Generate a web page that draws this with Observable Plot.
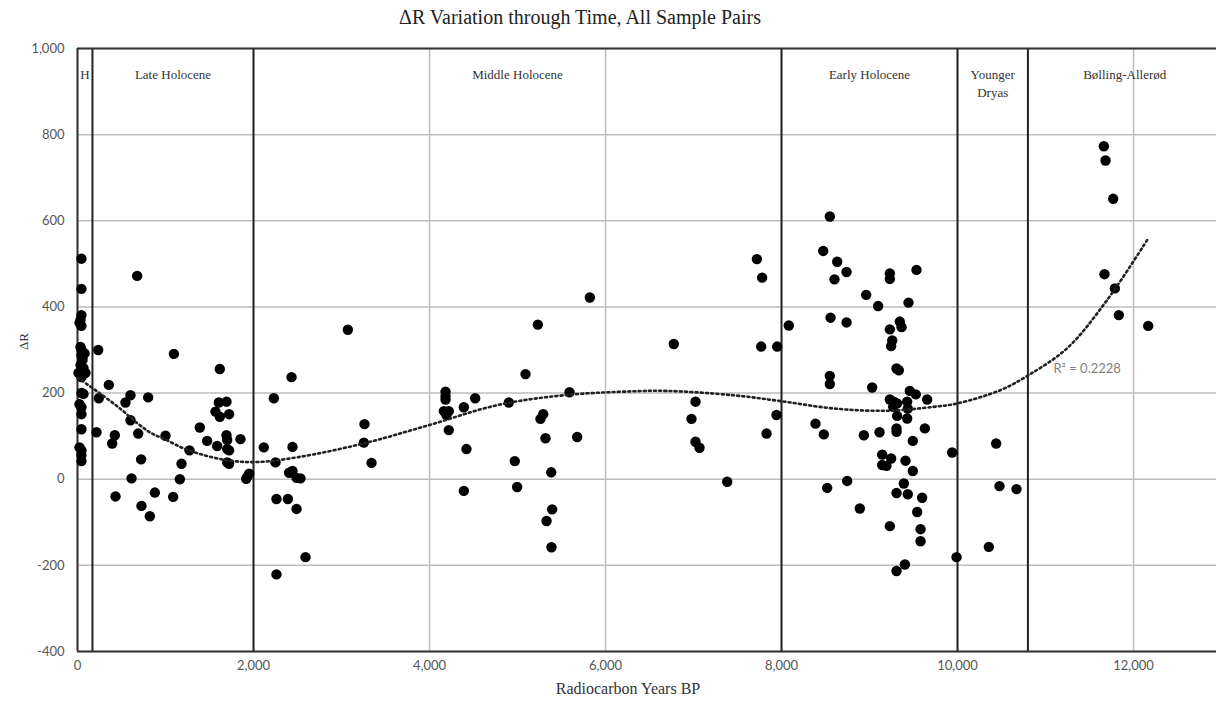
<!DOCTYPE html>
<html>
<head>
<meta charset="utf-8">
<script src="https://cdn.jsdelivr.net/npm/d3@7"></script>
<script src="https://cdn.jsdelivr.net/npm/@observablehq/plot@0.6"></script>
<style>
  html, body { margin: 0; padding: 0; background: #fff; }
  #title { width: 1160px; height: 34px; line-height: 34px; text-align: center;
           font-family: "Liberation Serif", "Times New Roman", serif; font-size: 20px; color: #222; }
</style>
</head>
<body>
<div id="title">ΔR Variation through Time, All Sample Pairs</div>
<div id="chart"></div>
<script>
// Sample pairs: radiocarbon age (years BP) and ΔR
const years = [
  45,45,45,34,23,45,34,45,45,57,34,68,11,91,45,45,68,23,45,45,45,23,45,45,45,80,57,
  235,678,356,242,216,602,545,803,602,424,394,690,723,614,432,1095,1000,1273,1182,1163,1087,
  1390,1473,1568,1617,1617,1606,1693,1723,1587,1693,1701,1701,1723,1701,1723,1852,1928,1951,1917,
  727,822,879,2117,2231,2250,2432,2443,2405,2443,2489,2534,2261,2390,2489,2261,2591,
  3072,3261,3254,3341,4182,4182,4182,4519,4390,4901,4163,4219,4193,4219,4420,4390,4969,4996,
  5091,5231,5292,5261,5318,5383,5394,5330,5386,5591,5678,5822,
  6776,7023,6977,7023,7068,7383,7720,7780,7769,7951,7943,7830,8083,
  8549,8474,8633,8739,8602,9231,9231,9534,8962,9098,9443,8557,8739,9344,9364,9231,9258,9246,
  9307,9333,8549,8549,9030,9458,9526,9655,9231,9276,9314,9428,9435,9269,9314,9428,
  8386,8481,8936,9114,9307,9307,9629,9492,9144,9246,9144,9193,9409,9492,
  8519,8746,9390,9307,9435,9598,8890,9542,9231,9580,9580,9402,9307,9939,9989,
  10439,10477,10670,10356,
  11663,11682,11769,11670,11788,11833,12167
];
const deltaR = [
  512,442,381,370,363,356,307,300,288,277,265,258,247,247,237,200,198,174,167,151,116,74,67,56,42,292,284,
  300,472,219,188,109,195,178,190,137,102,83,106,46,2,-40,291,101,67,36,0,-41,
  120,89,157,145,256,178,180,151,77,102,91,70,67,39,36,93,5,13,1,
  -62,-86,-31,74,188,39,237,75,15,19,3,2,-46,-46,-69,-221,-181,
  347,128,85,38,203,193,185,188,167,178,158,158,149,114,70,-27,42,-18,
  244,359,151,140,95,16,-70,-97,-158,202,98,422,
  314,180,140,87,73,-6,511,468,308,308,149,106,357,
  610,530,505,481,464,478,465,486,428,402,410,375,364,366,353,348,322,309,
  257,253,240,221,213,205,197,185,185,180,176,180,164,168,147,141,
  129,104,102,109,118,110,118,89,57,48,33,31,43,19,
  -20,-4,-10,-32,-35,-43,-68,-76,-109,-116,-144,-198,-213,62,-181,
  83,-16,-23,-157,
  773,740,651,476,443,381,356
];

// Polynomial trendline
const trendYears = [0,250,490,680,830,1000,1250,1700,2050,2500,3250,4000,4770,5530,6300,6700,7450,8000,8600,9200,9730,10000,10490,10810,11250,11700,12170];
const trendDeltaR = [236,200,163,130,108,92,68,44,40,51,83,126,172,195,204,205,195,181,164,159,168,176,207,242,305,416,560];
const rSquaredLabel = "R² = 0.2228";
const rSquaredPos = [11090, 256];

// Climatic periods
const periodNames = ["H", "Late Holocene", "Middle Holocene", "Early Holocene", "Younger\nDryas", "Bølling-Allerød"];
const periodStart = [0, 170, 2000, 8000, 10000, 10800];
const periodEnd = [170, 2000, 8000, 10000, 10800, 13000];

// Axes
const xTicks = [0, 2000, 4000, 6000, 8000, 10000, 12000];
const yTicks = [-400, -200, 0, 200, 400, 600, 800, 1000];

const points = years.map((x, i) => ({x, y: deltaR[i]}));
const trend = trendYears.map((x, i) => ({x, y: trendDeltaR[i]}));
const periods = periodNames.map((name, i) => ({name, mid: (periodStart[i] + periodEnd[i]) / 2}));
const boundaries = periodStart.slice(1);
const fmt = d => d3.format(",")(d).replace("\u2212", "-");

const chart = Plot.plot({
  width: 1216,
  height: 668,
  marginLeft: 77,
  marginRight: 0,
  marginTop: 14,
  marginBottom: 51,
  style: {fontFamily: "Lato, 'Open Sans', sans-serif", fontSize: "13px", color: "#555", background: "#fff"},
  x: {domain: [0, 12943]},
  y: {domain: [-400, 1000]},
  marks: [
    Plot.ruleY(yTicks, {stroke: "#bdbdbd", strokeWidth: 1.5}),
    Plot.ruleX(xTicks, {stroke: "#bdbdbd", strokeWidth: 1.5}),
    Plot.ruleX(boundaries, {stroke: "#222", strokeWidth: 2}),
    Plot.ruleX([0], {stroke: "#333", strokeWidth: 2}),
    Plot.ruleY([1000, -400], {stroke: "#333", strokeWidth: 2}),
    Plot.axisY({ticks: yTicks, tickFormat: fmt, tickSize: 0, tickPadding: 13, label: null}),
    Plot.axisX({ticks: xTicks, tickFormat: fmt, tickSize: 0, tickPadding: 9, label: null}),
    Plot.dot(points, {x: "x", y: "y", r: 5.2, fill: "#000", stroke: "none"}),
    Plot.line(trend, {x: "x", y: "y", curve: "catmull-rom", stroke: "#222", strokeWidth: 2.6, strokeDasharray: "2 3.2"}),
    Plot.text([rSquaredLabel], {x: () => rSquaredPos[0], y: () => rSquaredPos[1], text: d => d, textAnchor: "start",
      fill: "#7f7f7f", fontSize: 13, fontFamily: "Lato, 'Open Sans', sans-serif"}),
    Plot.text(periods, {x: "mid", y: () => 1000, text: "name", lineAnchor: "top", dy: 18, lineHeight: 1.35,
      fill: "#333", fontSize: 13, fontFamily: "'Liberation Serif', 'Times New Roman', serif"}),
    Plot.text(["ΔR"], {frameAnchor: "left", dx: -54, rotate: -90, text: d => d,
      fill: "#333", fontSize: 13, fontFamily: "'Liberation Serif', 'Times New Roman', serif"}),
    Plot.text(["Radiocarbon Years BP"], {frameAnchor: "bottom", dx: -19, dy: 42, text: d => d,
      fill: "#333", fontSize: 16, fontFamily: "'Liberation Serif', 'Times New Roman', serif"})
  ]
});
document.getElementById("chart").appendChild(chart);
</script>
</body>
</html>
